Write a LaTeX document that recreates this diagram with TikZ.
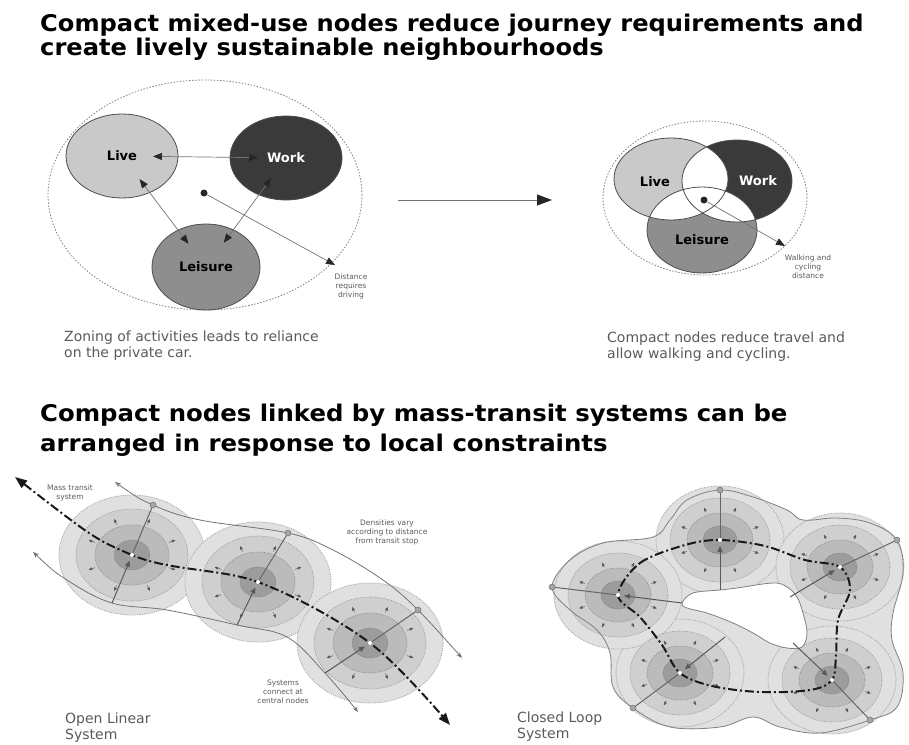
\documentclass[tikz,border=0pt]{standalone}
\usepackage{fontspec}
\setmainfont{DejaVu Sans}
\usepackage{graphicx}
\usetikzlibrary{positioning, arrows.meta, shapes.geometric}

\definecolor{livegray}{HTML}{C9C9C9}
\definecolor{workgray}{HTML}{3A3A3A}
\definecolor{leisgray}{HTML}{8E8E8E}
\definecolor{ringA}{HTML}{E0E0E0}
\definecolor{ringB}{HTML}{CFCFCF}
\definecolor{ringC}{HTML}{BBBBBB}
\definecolor{ringD}{HTML}{9C9C9C}
\definecolor{capgray}{HTML}{5A5A5A}

% Venn circles of the compact node
\newcommand\vlive{(671,179) ellipse [x radius=57pt, y radius=41pt]}
\newcommand\vwork{(737,181) ellipse [x radius=55pt, y radius=41pt]}
\newcommand\vleis{(702,230) ellipse [x radius=55pt, y radius=43pt]}
% outline of the closed loop
\newcommand\loopedge{plot[smooth cycle, tension=0.6] coordinates
    {(720,490) (753,497) (787,510) (803,520) (837,518) (870,523) (897,540) (903,573)
     (893,613) (892,640) (903,673) (897,707) (870,720) (820,733) (780,727) (753,717)
     (720,727) (670,727) (633,708) (613,687) (610,653) (597,630) (570,610) (552,587)
     (570,560) (603,543) (653,537) (670,520) (687,500)}}

\begin{document}
\begin{tikzpicture}[x=1pt, y=-1pt,
    >={Triangle[length=9pt, width=7pt, color=black!85]},
    title/.style={anchor=base west, inner sep=0pt, font=\fontsize{23}{24}\selectfont\bfseries},
    caption/.style={anchor=north west, inner sep=0pt, align=left, text=capgray,
                    font=\fontsize{14}{16}\selectfont},
    note/.style={inner sep=0pt, align=center, text=capgray, font=\fontsize{7.5}{9}\selectfont},
    zone/.style={ellipse, draw=black!70, line width=0.8pt, inner sep=0pt,
                 font=\fontsize{13}{14}\selectfont\bfseries},
    word/.style={inner sep=0pt, font=\fontsize{13}{14}\selectfont\bfseries},
    halo/.style={draw=black!50, dash pattern=on 1.5pt off 1.6pt, line width=0.8pt},
    hub/.style={circle, fill=black!85, inner sep=0pt, minimum size=7pt},
    link/.style={<->, draw=black!55, line width=0.7pt},
    reach/.style={->, draw=black!55, line width=0.7pt},
    change/.style={-{Triangle[length=15pt, width=11pt, color=black!85]}, draw=black!55, line width=1pt},
    ringa/.style={fill=ringA, draw=black!35, dash pattern=on 1.2pt off 1.2pt, line width=0.8pt},
    ringb/.style={fill=ringB, draw=black!40, dash pattern=on 1.2pt off 1.2pt, line width=0.6pt},
    ringc/.style={fill=ringC, draw=black!45, dash pattern=on 1.2pt off 1.2pt, line width=0.6pt},
    ringd/.style={fill=ringD, draw=black!50, dash pattern=on 1.2pt off 1.2pt, line width=0.5pt},
    spike/.style={-{Triangle[length=3.5pt, width=3pt]}, draw=black!65, line width=0.5pt},
    track/.style={{Stealth[length=6pt, width=4.5pt]}-{Stealth[length=6pt, width=4.5pt]},
                  draw=black!55, line width=0.8pt},
    rim/.style={draw=black!50, line width=0.8pt},
    spoke/.style={draw=black!60, line width=1pt},
    feed/.style={-{Triangle[length=6pt, width=5pt]}, draw=black!65, line width=1pt, shorten >=6pt},
    knob/.style={circle, fill=black!35, draw=black!55, line width=0.5pt, inner sep=0pt, minimum size=6pt},
    transit/.style={{Triangle[length=12pt, width=9pt]}-{Triangle[length=12pt, width=9pt]},
                    draw=black!90, line width=2pt, dash pattern=on 9pt off 3pt on 2pt off 3pt},
    loopline/.style={draw=black!90, line width=2pt, dash pattern=on 9pt off 3pt on 2pt off 3pt}
  ]
  \useasboundingbox (0,0) rectangle (909,744);

  % Headings
  \node[title] (head1)  at (40,31)  {\scalebox{1.05}[1]{Compact mixed-use nodes reduce journey requirements and}};
  \node[title] (head1b) at (40,55)  {\scalebox{1.05}[1]{create lively sustainable neighbourhoods}};
  \node[title] (head2)  at (40,421) {\scalebox{1.06}[1]{Compact nodes linked by mass-transit systems can be}};
  \node[title] (head2b) at (40,451) {\scalebox{1.06}[1]{arranged in response to local constraints}};

  % Zoned activities
  \draw[halo] (205,195) ellipse [x radius=157pt, y radius=115pt];
  \node[zone, fill=livegray, minimum width=112pt, minimum height=84pt] (live) at (122,156) {Live};
  \node[zone, fill=workgray, text=white, minimum width=112pt, minimum height=84pt] (work) at (286,158) {Work};
  \node[zone, fill=leisgray, minimum width=108pt, minimum height=86pt] (leisure) at (206,267) {Leisure};
  \draw[link, shorten <=31pt, shorten >=28pt] (live.center) -- (work.center);
  \draw[link, shorten <=29pt, shorten >=29pt] (live.center) -- (leisure.center);
  \draw[link, shorten <=25pt, shorten >=30pt] (work.center) -- (leisure.center);
  \node[hub] (core1) at (204,193) {};
  \coordinate (far1) at (335,265);
  \draw[reach] (core1) -- (far1);
  \node[note, anchor=north] (drive) at (351,274) {Distance\\requires\\driving};
  \node[caption] (cap1) at (64,331) {Zoning of activities leads to reliance\\on the private car.};

  % From zoning to compact nodes
  \coordinate (from) at (398,200);
  \coordinate (to) at (552,200);
  \draw[change] (from) -- (to);

  % Compact mixed-use node
  \draw[halo] (705,198) ellipse [x radius=102pt, y radius=77pt];
  \fill[livegray] \vlive;
  \fill[workgray] \vwork;
  \fill[leisgray] \vleis;
  \begin{scope}
    \clip \vlive;
    \fill[white] \vwork;
    \fill[white] \vleis;
  \end{scope}
  \begin{scope}
    \clip \vwork;
    \fill[white] \vleis;
  \end{scope}
  \draw[black!70, line width=0.8pt] \vlive \vwork \vleis;
  \node[word] (live2) at (655,182) {Live};
  \node[word, text=white] (work2) at (758,181) {Work};
  \node[word] (leis2) at (702,240) {Leisure};
  \node[hub] (core2) at (704,200) {};
  \coordinate (far2) at (785,246);
  \draw[reach] (core2) -- (far2);
  \node[note] (walk) at (808,267) {Walking and\\cycling\\distance};
  \node[caption] (cap2) at (607,332) {Compact nodes reduce travel and\\allow walking and cycling.};

  % Open linear system
  \coordinate (n1) at (132,555);
  \coordinate (n2) at (258,582);
  \coordinate (n3) at (370,643);
  \foreach \c in {n1,n2,n3} \path[ringa] (\c) ellipse [x radius=73pt, y radius=60pt];
  \foreach \c in {n1,n2,n3} \path[ringb] (\c) ellipse [x radius=56pt, y radius=46pt];
  \foreach \c in {n1,n2,n3} \path[ringc] (\c) ellipse [x radius=37pt, y radius=30pt];
  \foreach \c in {n1,n2,n3} \path[ringd] (\c) ellipse [x radius=18pt, y radius=15pt];
  \foreach \c in {n1,n2,n3}
    \foreach \a in {22.5,67.5,...,337.5}
      \draw[spike] ([shift={(\a:40pt and 33pt)}]\c) -- ([shift={(\a:47pt and 39pt)}]\c);
  \draw[track] plot[smooth, tension=0.6] coordinates
    {(115,482) (153,505) (200,520) (288,533) (333,550) (383,580) (418,610) (462,658)};
  \draw[track] plot[smooth, tension=0.6] coordinates
    {(33,552) (67,580) (112,603) (167,610) (237,625) (287,637) (325,673) (358,712)};
  \node[knob] (top1) at (153,505) {};
  \node[knob] (top2) at (288,533) {};
  \node[knob] (top3) at (418,610) {};
  \coordinate (low1) at (112,603);
  \coordinate (low2) at (237,625);
  \coordinate (low3) at (325,673);
  \foreach \i in {1,2,3} {
    \draw[spoke] (top\i) -- (n\i);
    \draw[feed] (low\i) -- (n\i);
  }
  \draw[transit] plot[smooth, tension=0.55] coordinates
    {(15,477) (132,555) (258,582) (370,643) (450,725)};
  \foreach \c in {n1,n2,n3} \fill[white] (\c) circle [radius=2pt];
  \node[note] (mass) at (70,493) {Mass transit\\system};
  \node[note] (dens) at (387,532) {Densities vary\\according to distance\\from transit stop};
  \node[note] (join) at (283,692) {Systems\\connect at\\central nodes};
  \node[caption] (cap3) at (65,713) {Open Linear\\System};

  % Closed loop system
  \coordinate (ct)  at (720,540);
  \coordinate (cr)  at (840,567);
  \coordinate (cbr) at (832,680);
  \coordinate (cbl) at (680,673);
  \coordinate (cl)  at (618,595);
  \fill[ringA] \loopedge;
  \foreach \c in {ct,cr,cbr,cbl,cl} \path[ringa] (\c) ellipse [x radius=64pt, y radius=54pt];
  \foreach \c in {ct,cr,cbr,cbl,cl} \path[ringb] (\c) ellipse [x radius=50pt, y radius=42pt];
  \foreach \c in {ct,cr,cbr,cbl,cl} \path[ringc] (\c) ellipse [x radius=33pt, y radius=27pt];
  \foreach \c in {ct,cr,cbr,cbl,cl} \path[ringd] (\c) ellipse [x radius=17pt, y radius=14pt];
  \foreach \c in {ct,cr,cbr,cbl,cl}
    \foreach \a in {22.5,67.5,...,337.5}
      \draw[spike] ([shift={(\a:36pt and 30pt)}]\c) -- ([shift={(\a:42pt and 35pt)}]\c);
  \draw[rim] \loopedge;
  \filldraw[fill=white, rim] plot[smooth cycle, tension=0.6] coordinates
    {(682,603) (693,593) (720,590) (737,588) (773,583) (787,587) (797,597) (803,613)
     (807,633) (802,647) (787,648) (770,643) (753,633) (733,623) (707,613) (687,608)};
  \node[knob] (mt)  at (720,490) {};
  \node[knob] (mr)  at (897,540) {};
  \node[knob] (mbr) at (870,720) {};
  \node[knob] (mbl) at (633,708) {};
  \node[knob] (ml)  at (552,587) {};
  \coordinate (ht)  at (720,590);
  \coordinate (hr)  at (790,597);
  \coordinate (hbr) at (793,643);
  \coordinate (hbl) at (725,637);
  \coordinate (hl)  at (682,603);
  \foreach \m/\h/\c in {mt/ht/ct, mr/hr/cr, mbr/hbr/cbr, mbl/hbl/cbl, ml/hl/cl} {
    \draw[spoke] (\m) -- (\c);
    \draw[feed] (\h) -- (\c);
  }
  \draw[loopline] plot[smooth cycle, tension=0.55] coordinates
    {(618,595) (640,563) (685,545) (720,540) (765,546) (805,560) (840,567) (850,590)
     (838,620) (836,655) (832,680) (810,690) (760,692) (712,686) (680,673) (662,645)
     (640,617)};
  \foreach \c in {ct,cr,cbr,cbl,cl} \fill[white] (\c) circle [radius=2pt];
  \node[caption] (cap4) at (517,712) {Closed Loop\\System};
\end{tikzpicture}
\end{document}
